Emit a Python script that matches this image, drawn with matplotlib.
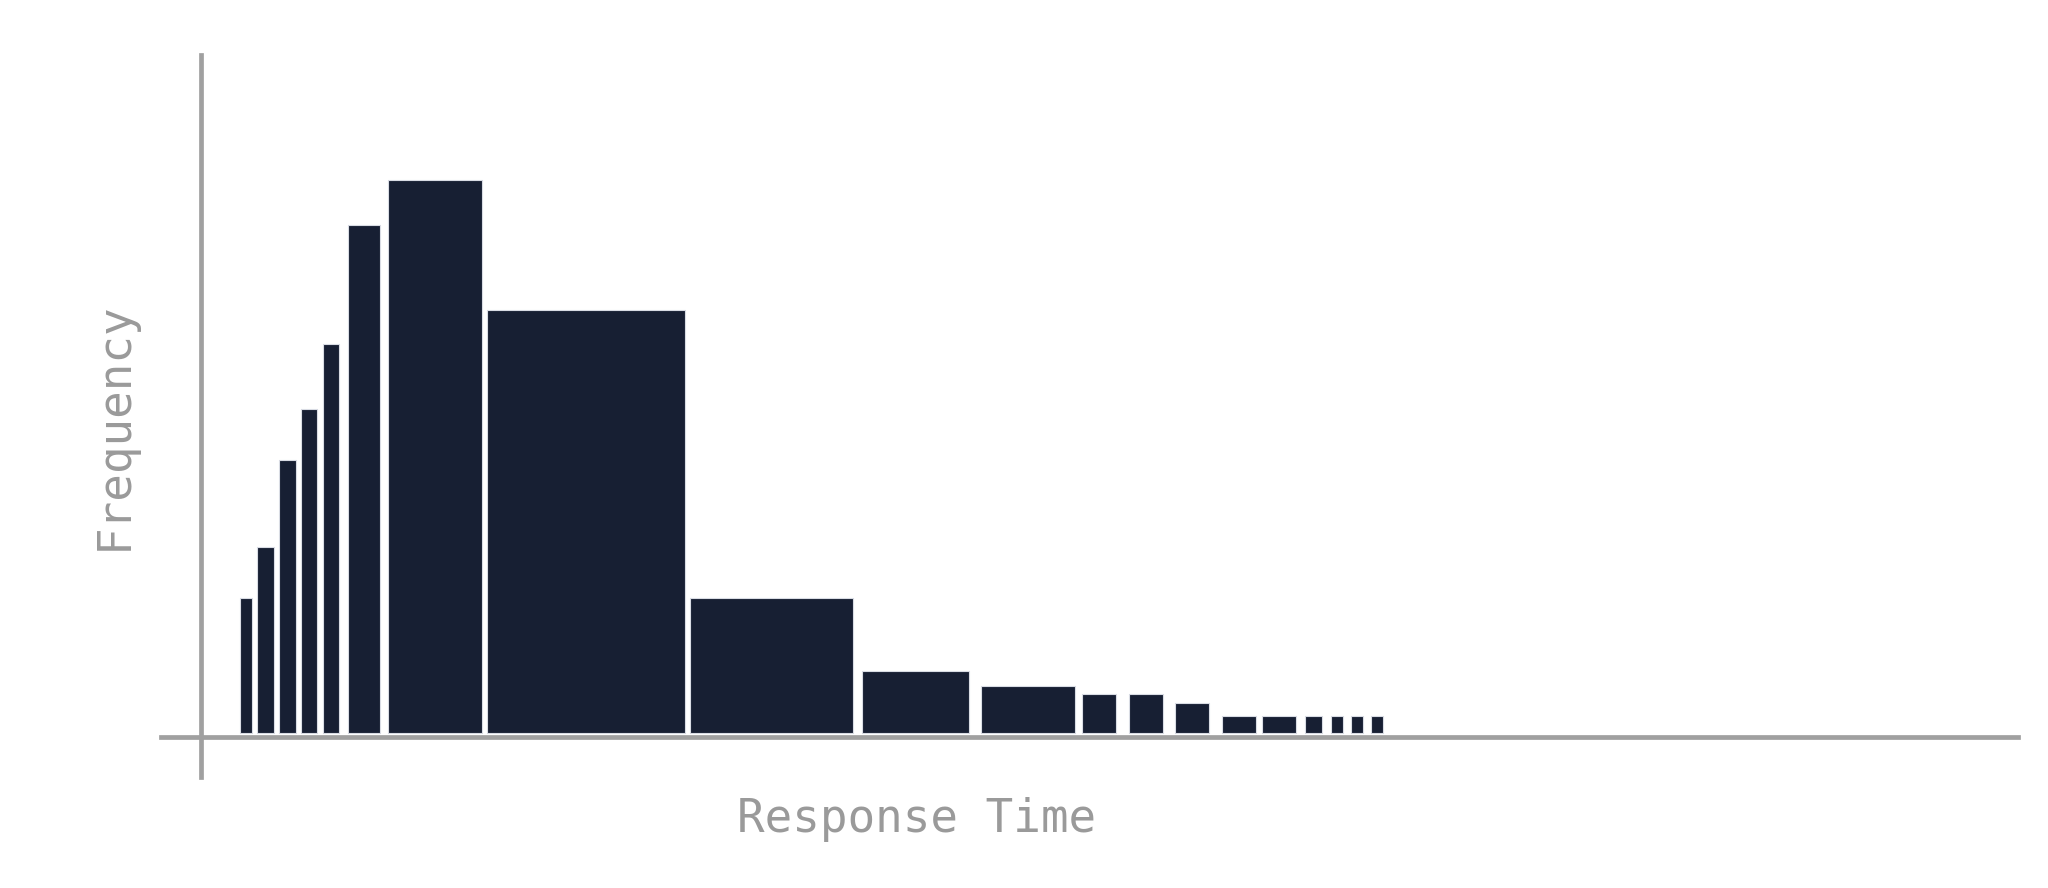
import numpy as np
import matplotlib
matplotlib.use("Agg")
import matplotlib.pyplot as plt

# response time bins (left edge, width) and frequency counts
bin_left = [39, 56, 78, 100, 122, 147, 187, 286, 489, 661, 780, 881, 928, 974, 1021, 1061, 1104, 1130, 1150, 1170]
bin_width = [12, 17, 17, 16, 16, 32, 94, 198, 163, 107, 94, 34, 34, 34, 34, 34, 17, 12, 12, 12]
freq = [135, 186, 273, 324, 389, 508, 553, 423, 135, 62, 47, 39, 39, 30, 17, 17, 17, 17, 17, 17]

W, H = 2048, 888
fig = plt.figure(figsize=(W / 100, H / 100), dpi=100)
fig.patch.set_facecolor("white")

# axes box in pixels: x 161..2018, y 55..777
ax = fig.add_axes([161 / W, (H - 777) / H, (2018 - 161) / W, (777 - 55) / H])
ax.set_xlim(-40, 1817)
ax.set_ylim(-44, 678)

ax.bar(bin_left, freq, width=bin_width, align="edge", bottom=0,
       color="#171f33", edgecolor="#d9dce4", linewidth=0.8, zorder=3)

############################ axes lines ############################
for s in ["top", "right"]:
    ax.spines[s].set_visible(False)
ax.spines["left"].set_position(("data", 0))
ax.spines["bottom"].set_position(("data", -4))
for s in ["left", "bottom"]:
    ax.spines[s].set_color("#a0a0a0")
    ax.spines[s].set_linewidth(3.4)
ax.set_xticks([])
ax.set_yticks([])
ax.patch.set_alpha(0)

mono = "DejaVu Sans Mono"
fig.text(917 / W, (H - 832) / H, "Response Time", ha="center", va="baseline",
         fontsize=33, color="#9a9a9a", family=mono)
fig.text(127 / W, (H - 426) / H, "Frequency", rotation=90, rotation_mode="anchor",
         ha="center", va="baseline", fontsize=33, color="#9a9a9a", family=mono)

plt.savefig("out.png", dpi=100)
